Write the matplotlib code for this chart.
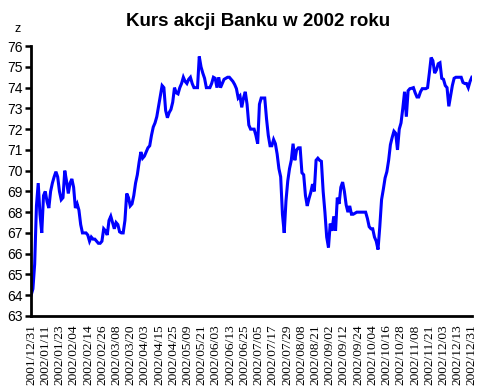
import numpy as np
import matplotlib
matplotlib.use("Agg")
from matplotlib import pyplot as plt

# kurs zamkniecia, kolejne sesje 2002
kurs = [
    64.0, 64.3, 65.5, 68.3, 69.4, 67.9, 67.0, 68.8, 69.0, 68.5,
    68.2, 69.0, 69.4, 69.7, 69.95, 69.7, 69.0, 68.6, 68.7, 70.0,
    69.5, 68.9, 69.4, 69.6, 69.2, 68.2, 68.4, 68.1, 67.4, 67.0,
    67.0, 67.0, 66.9, 66.6, 66.8, 66.7, 66.7, 66.6, 66.5, 66.5,
    66.6, 67.2, 67.1, 66.9, 67.6, 67.8, 67.5, 67.2, 67.5, 67.4,
    67.05, 67.0, 67.0, 67.6, 68.9, 68.7, 68.3, 68.4, 68.8, 69.4,
    69.8, 70.4, 70.9, 70.6, 70.7, 70.9, 71.1, 71.2, 71.7, 72.1,
    72.3, 72.6, 73.1, 73.6, 74.1, 74.0, 72.9, 72.55, 72.8, 72.95,
    73.3, 74.0, 73.75, 73.7, 74.0, 74.2, 74.5, 74.3, 74.2, 74.4,
    74.5, 74.2, 74.0, 74.0, 74.0, 75.5, 75.0, 74.7, 74.45, 74.0,
    74.0, 74.0, 74.2, 74.5, 74.45, 74.0, 74.5, 74.0, 74.2, 74.4,
    74.45, 74.5, 74.5, 74.4, 74.3, 74.15, 73.95, 73.5, 73.6, 73.05,
    73.5, 73.8, 73.2, 72.2, 72.0, 72.0, 72.0, 71.7, 71.3, 73.2,
    73.5, 73.5, 73.5, 72.5, 71.7, 71.2, 71.2, 71.5, 71.3, 70.8,
    70.1, 69.7, 67.9, 67.0, 68.55, 69.5, 70.1, 70.5, 71.3, 70.5,
    71.0, 71.1, 71.1, 69.9, 69.8, 68.8, 68.3, 68.65, 68.95, 69.35,
    69.0, 70.5, 70.6, 70.5, 70.45, 69.0, 68.0, 66.8, 66.3, 67.45,
    67.1, 67.8, 67.1, 68.7, 68.4, 69.2, 69.45, 69.0, 68.35, 68.0,
    68.3, 67.9, 67.9, 67.95, 68.0, 68.0, 68.0, 68.0, 68.0, 68.0,
    67.7, 67.3, 67.2, 67.2, 66.8, 66.6, 66.2, 67.3, 68.6, 69.1,
    69.65, 69.95, 70.5, 71.25, 71.6, 71.9, 71.8, 71.0, 72.0, 72.3,
    73.0, 73.8, 72.6, 73.85, 73.95, 73.97, 74.0, 73.75, 73.55, 73.55,
    73.8, 73.95, 73.95, 73.95, 74.0, 74.7, 75.45, 75.3, 74.7, 74.85,
    75.15, 75.2, 74.45, 74.4, 74.1, 74.0, 73.1, 73.6, 74.1, 74.45,
    74.5, 74.5, 74.5, 74.5, 74.25, 74.2, 74.2, 74.0, 74.3, 74.5,
]

daty = [
    "2001/12/31", "2002/01/11", "2002/01/23", "2002/02/04", "2002/02/14",
    "2002/02/26", "2002/03/08", "2002/03/20", "2002/04/03", "2002/04/15",
    "2002/04/25", "2002/05/09", "2002/05/21", "2002/06/03", "2002/06/13",
    "2002/06/25", "2002/07/05", "2002/07/17", "2002/07/29", "2002/08/08",
    "2002/08/21", "2002/09/02", "2002/09/12", "2002/09/24", "2002/10/04",
    "2002/10/16", "2002/10/28", "2002/11/08", "2002/11/21", "2002/12/03",
    "2002/12/13", "2002/12/31",
]

y_ticks = list(range(63, 77))

sesja = np.arange(len(kurs))

fig = plt.figure(figsize=(4.79, 3.91), dpi=100)
ax = fig.add_axes([0.065, 0.192, 0.92, 0.690])

ax.plot(sesja, kurs, color="#0000ff", lw=2.2, solid_joinstyle="miter")

ax.set_xlim(0, len(kurs) - 1)
ax.set_ylim(63, 76)

ax.set_yticks(y_ticks)
ax.set_yticklabels([str(v) for v in y_ticks], fontsize=10,
                   family="Liberation Sans")
ax.set_xticks(np.linspace(0, len(kurs) - 1, len(daty)))
ax.set_xticklabels(daty, rotation=90, fontsize=9.6, family="Liberation Serif")

ax.tick_params(axis="y", direction="out", length=4, width=1.8, pad=2)
ax.tick_params(axis="x", length=0, pad=6)

for s in ["top", "right"]:
    ax.spines[s].set_visible(False)
for s in ["left", "bottom"]:
    ax.spines[s].set_linewidth(2)

fig.text(0.539, 0.946, "Kurs akcji Banku w 2002 roku", ha="center", va="center",
         fontsize=13.5, fontweight="bold", family="Liberation Sans")
fig.text(0.036, 0.925, "z", ha="center", va="center", fontsize=9,
         family="Liberation Sans")

fig.savefig("out.png", dpi=100)
